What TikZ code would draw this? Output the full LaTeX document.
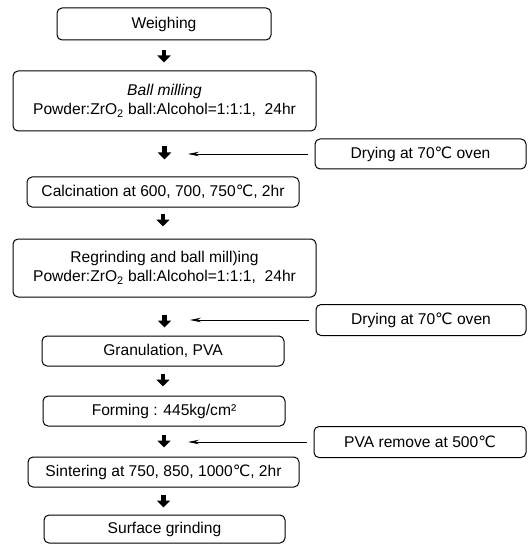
\documentclass[tikz,border=0pt]{standalone}
\usepackage{fontspec}
\setmainfont{Liberation Sans}
\newfontfamily\degfont{DejaVu Sans}
\usetikzlibrary{arrows.meta}
\newcommand{\degC}{{\degfont ℃}}

\begin{document}
\begin{tikzpicture}[x=1pt,y=-1pt,
    font=\fontsize{15.6}{19}\selectfont,
    stepbox/.style={draw,line width=1pt,rounded corners=5pt,inner sep=0pt,align=center,minimum height=30pt},
    fatarrow/.style={line width=4.5pt,-{Triangle[width=13pt,length=7pt]}},
    sidearrow/.style={line width=0.9pt,-{Stealth[length=11pt,width=4.5pt]}}]
        \useasboundingbox (0,0) rectangle (527,545);
        % main process column
        \node[stepbox,minimum width=214pt,minimum height=32pt] (weigh) at (164,24) {Weighing};
        \node[stepbox,minimum width=303pt,minimum height=60pt] (ball) at (164.5,101) {\textit{Ball milling}\\Powder:ZrO\textsubscript{2} ball:Alcohol=1:1:1,\ \ 24hr};
        \node[stepbox,minimum width=272pt] (calc) at (163,192) {Calcination at 600, 700, 750\degC, 2hr};
        \node[stepbox,minimum width=303pt,minimum height=58pt] (regrind) at (164.5,268) {Regrinding and ball mill)ing\\Powder:ZrO\textsubscript{2} ball:Alcohol=1:1:1,\ \ 24hr};
        \node[stepbox,minimum width=242pt] (gran) at (163,351) {Granulation, PVA};
        \node[stepbox,minimum width=242pt] (form) at (164,411) {Forming : 445kg/cm²};
        \node[stepbox,minimum width=271pt] (sinter) at (163.5,472) {Sintering at 750, 850, 1000\degC, 2hr};
        \node[stepbox,minimum width=241pt,minimum height=28pt] (surf) at (164.5,529) {Surface grinding};
        % side steps
        \node[stepbox,minimum width=211pt] (dry1) at (420.5,154) {Drying at 70\degC\ oven};
        \node[stepbox,minimum width=210pt,minimum height=31pt] (dry2) at (421,320) {Drying at 70\degC\ oven};
        \node[stepbox,minimum width=212pt,minimum height=31pt] (pva) at (420,442) {PVA remove at 500\degC};
        \coordinate (in1) at (188,154);
        \coordinate (in2) at (190,320);
        \coordinate (in3) at (188,442);
        % flow arrows
        \draw[fatarrow,shorten <=10pt,shorten >=8pt] (weigh.south) -- (weigh.south |- ball.north);
        \draw[fatarrow,shorten <=15pt,shorten >=17pt] (ball.south) -- (ball.south |- calc.north);
        \draw[fatarrow,shorten <=6pt,shorten >=12pt] (calc.south) -- (calc.south |- regrind.north);
        \draw[fatarrow,shorten <=17pt,shorten >=8pt] (regrind.south) -- (regrind.south |- gran.north);
        \draw[fatarrow,shorten <=7pt,shorten >=9pt] (gran.south) -- (gran.south |- form.north);
        \draw[fatarrow,shorten <=8pt,shorten >=9pt] (form.south) -- (form.south |- sinter.north);
        \draw[fatarrow,shorten <=7pt,shorten >=7pt] (sinter.south) -- (sinter.south |- surf.north);
        \draw[sidearrow,shorten <=7pt] (dry1.west) -- (in1);
        \draw[sidearrow,shorten <=7pt] (dry2.west) -- (in2);
        \draw[sidearrow,shorten <=7pt] (pva.west) -- (in3);
\end{tikzpicture}
\end{document}
